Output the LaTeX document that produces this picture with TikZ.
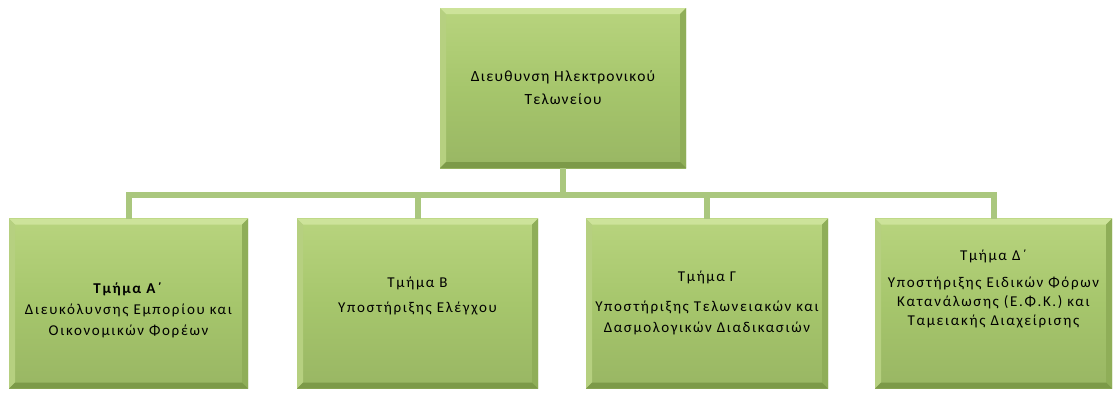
\documentclass[tikz,border=0pt]{standalone}
\usepackage{fontspec}
\setmainfont{Carlito}
\definecolor{boxfill}{HTML}{A6C66C}
\definecolor{boxtop}{HTML}{B8D47E}
\definecolor{bevtop}{HTML}{CDE39A}
\definecolor{bevleft}{HTML}{B6D080}
\definecolor{bevright}{HTML}{8FAE58}
\definecolor{bevbot}{HTML}{7C9A48}
\definecolor{linecol}{HTML}{AAC77E}
\tikzset{
  orgbox/.style={minimum width=#1, inner sep=0pt, outer sep=0pt,
    top color=boxtop, bottom color=boxfill!92!black, middle color=boxfill,
    path picture={
      \def\b{6pt}
      \fill[bevtop] (path picture bounding box.north west) -- (path picture bounding box.north east)
        -- ([shift={(-\b,-\b)}]path picture bounding box.north east) -- ([shift={(\b,-\b)}]path picture bounding box.north west) -- cycle;
      \fill[bevleft] (path picture bounding box.north west) -- ([shift={(\b,-\b)}]path picture bounding box.north west)
        -- ([shift={(\b,\b)}]path picture bounding box.south west) -- (path picture bounding box.south west) -- cycle;
      \fill[bevright] (path picture bounding box.north east) -- ([shift={(-\b,-\b)}]path picture bounding box.north east)
        -- ([shift={(-\b,\b)}]path picture bounding box.south east) -- (path picture bounding box.south east) -- cycle;
      \fill[bevbot] (path picture bounding box.south west) -- ([shift={(\b,\b)}]path picture bounding box.south west)
        -- ([shift={(-\b,\b)}]path picture bounding box.south east) -- (path picture bounding box.south east) -- cycle;
    }},
  boxtext/.style={align=center, inner sep=0pt, font=\fontsize{15}{21}\selectfont\addfontfeatures{LetterSpace=11}},
  conn/.style={draw=linecol, line width=6pt}
}
\begin{document}
\begin{tikzpicture}[x=1pt,y=-1pt]
\useasboundingbox (0,0) rectangle (1114,392);
% boxes
\node[orgbox=246pt, minimum height=160pt] (top) at (563,88) {};
\node[orgbox=239pt, minimum height=170pt] (a) at (128.5,303.5) {};
\node[orgbox=241pt, minimum height=170pt] (b) at (417.5,303.5) {};
\node[orgbox=242pt, minimum height=170pt] (c) at (707,303.5) {};
\node[orgbox=237pt, minimum height=170pt] (d) at (993.5,303.5) {};
% texts
\node[align=center, font=\fontsize{15.5}{23}\selectfont\addfontfeatures{LetterSpace=8}] (ttop) at (563,88) {Διευθυνση Ηλεκτρονικού\\Τελωνείου};
\node[boxtext] (ta) at (128.5,310) {\textbf{Τμήμα Α΄}\\Διευκόλυνσης Εμπορίου και\\Οικονομικών Φορέων};
\node[boxtext] (tb) at (417.5,296) {Τμήμα Β\\[4pt]Υποστήριξης Ελέγχου};
\node[boxtext] (tc) at (707,303) {Τμήμα Γ\\[9pt]Υποστήριξης Τελωνειακών και\\Δασμολογικών Διαδικασιών};
\node[boxtext, font=\fontsize{15}{19}\selectfont\addfontfeatures{LetterSpace=11}] (td) at (993.5,289) {Τμήμα Δ΄\\[8pt]Υποστήριξης Ειδικών Φόρων\\Κατανάλωσης (Ε.Φ.Κ.) και\\Ταμειακής Διαχείρισης};
% connectors
\coordinate (bar) at (563,195);
\draw[conn] (top.south) -- (bar);
\draw[conn] (a.north) |- (bar) -| (d.north);
\draw[conn] (b.north) -- (b.north |- bar);
\draw[conn] (c.north) -- (c.north |- bar);
\end{tikzpicture}
\end{document}
